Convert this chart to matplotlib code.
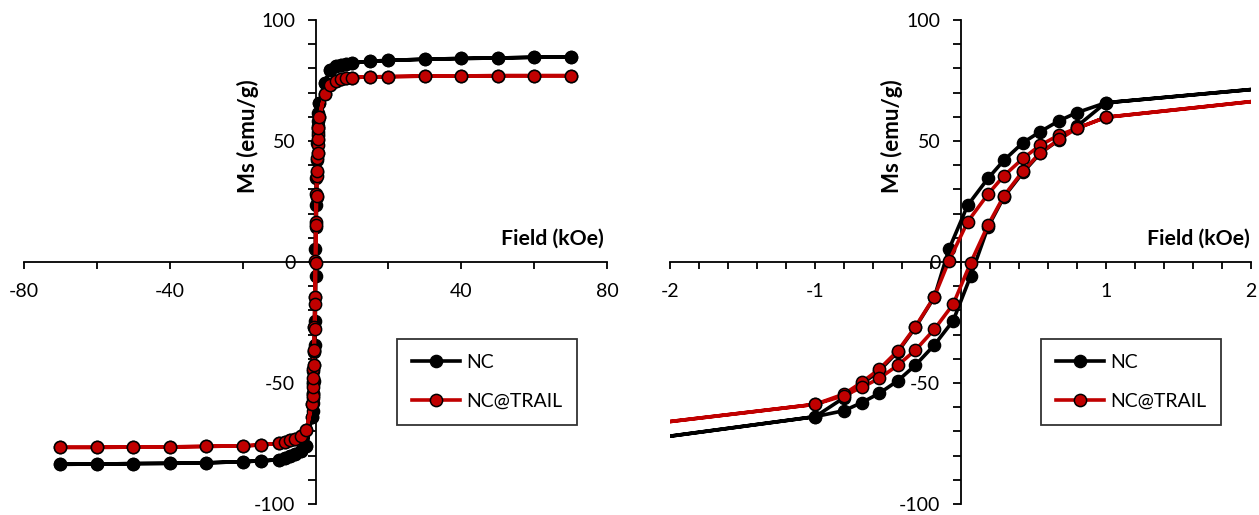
import numpy as np
import matplotlib
matplotlib.use("Agg")
import matplotlib.pyplot as plt
from matplotlib.ticker import MultipleLocator, FuncFormatter

plt.rcParams['font.family'] = ['Lato', 'DejaVu Sans']

# ---------------- data (field in kOe, Ms in emu/g) ----------------
field_down = [70, 60, 50, 40, 30, 20, 15, 10, 8.5, 7, 5.5, 4, 2.5,
              1.0, 0.8, 0.68, 0.55, 0.43, 0.30, 0.19, 0.05, -0.08, -0.18,
              -0.31, -0.43, -0.56, -0.68, -0.8, -1.0,
              -2.5, -4, -5.5, -7, -8.5, -10, -15, -20, -30, -40, -50, -60, -70]
nc_down = [84.7, 84.6, 84.3, 84.1, 83.8, 83.3, 83.0, 82.2, 81.9, 81.5, 80.8, 79.2, 74.0,
           65.8, 61.7, 58.4, 53.9, 49.3, 42.1, 34.6, 23.5, 5.2, -14.5,
           -27.0, -37.0, -45.0, -50.5, -56.0, -63.9,
           -76.0, -78.3, -79.5, -80.3, -81.0, -81.7, -82.2, -82.5, -83.0, -83.2, -83.3, -83.5, -83.6]
trail_down = [77.0, 77.0, 77.0, 76.9, 76.8, 76.6, 76.5, 76.2, 76.0, 75.7, 74.8, 73.0, 69.5,
              59.8, 55.2, 52.5, 48.3, 42.8, 35.7, 28.1, 16.7, 0.4, -14.3,
              -26.7, -36.6, -44.3, -49.7, -54.5, -58.8,
              -69.5, -72.0, -73.1, -73.7, -74.3, -74.9, -75.6, -76.0, -76.2, -76.4, -76.5, -76.6, -76.6]

field_up = [-70, -60, -50, -40, -30, -20, -15, -10, -8.5, -7, -5.5, -4, -2.5,
            -1.0, -0.8, -0.68, -0.56, -0.43, -0.31, -0.18, -0.05, 0.07, 0.19,
            0.30, 0.43, 0.55, 0.68, 0.8, 1.0,
            2.5, 4, 5.5, 7, 8.5, 10, 15, 20, 30, 40, 50, 60, 70]
nc_up = [-83.6, -83.5, -83.3, -83.2, -83.0, -82.5, -82.2, -81.7, -81.0, -80.3, -79.5, -78.3, -76.0,
         -63.9, -61.4, -58.1, -54.3, -49.0, -42.6, -34.3, -24.2, -5.8, 14.5,
         27.0, 37.0, 45.0, 50.5, 56.0, 65.8,
         74.0, 79.2, 80.8, 81.5, 81.9, 82.2, 83.0, 83.3, 83.8, 84.1, 84.3, 84.6, 84.7]
trail_up = [-76.6, -76.6, -76.5, -76.4, -76.2, -76.0, -75.6, -74.9, -74.3, -73.7, -73.1, -72.0, -69.5,
            -58.8, -55.2, -51.8, -48.1, -42.6, -36.4, -27.8, -17.4, -0.3, 15.3,
            27.4, 37.6, 45.2, 50.7, 55.2, 59.8,
            69.5, 73.0, 74.8, 75.7, 76.0, 76.2, 76.5, 76.6, 76.8, 76.9, 77.0, 77.0, 77.0]

series_names = ["NC", "NC@TRAIL"]
x_label = "Field (kOe)"
y_label = "Ms (emu/g)"

field = np.array(field_down + field_up)
nc = np.array(nc_down + nc_up)
trail = np.array(trail_down + trail_up)

RED = '#C00000'

fig = plt.figure(figsize=(12.59, 5.15), dpi=100)
axL = fig.add_axes([24/1259, 1-504/515, 583/1259, 484/515])
axR = fig.add_axes([670/1259, 1-504/515, 581/1259, 484/515])

def style(ax, xlim, xminor, xlabel_every, ylab_x, leg_anchor, xlab_right):
    ax.plot(field, nc, '-o', color='black', lw=2.6, ms=8.8, mfc='black', mec='black',
            mew=1.0, label=series_names[0], zorder=3)
    ax.plot(field, trail, '-o', color=RED, lw=2.6, ms=8.8, mfc=RED, mec='black',
            mew=1.1, label=series_names[1], zorder=4)
    ax.set_xlim(*xlim)
    ax.set_ylim(-100, 100)
    for s in ['top', 'right']:
        ax.spines[s].set_visible(False)
    ax.spines['left'].set_position(('data', 0))
    ax.spines['bottom'].set_position(('data', 0))
    for s in ['left', 'bottom']:
        ax.spines[s].set_linewidth(1.3)
        ax.spines[s].set_zorder(2)
    ax.xaxis.set_major_locator(MultipleLocator(xminor))
    ax.yaxis.set_major_locator(MultipleLocator(10))

    def xfmt(v, pos):
        if abs(v) < 1e-9:
            return ''
        r = v / xlabel_every
        if abs(r - round(r)) < 1e-6:
            return f"{int(round(v))}"
        return ''

    def yfmt(v, pos):
        if abs(v / 50 - round(v / 50)) < 1e-6:
            return f"{int(round(v))}"
        return ''
    ax.xaxis.set_major_formatter(FuncFormatter(xfmt))
    ax.yaxis.set_major_formatter(FuncFormatter(yfmt))
    ax.tick_params(axis='x', direction='out', length=5, width=1.3, pad=10, labelsize=14)
    ax.tick_params(axis='y', direction='out', length=5.5, width=1.3, pad=9, labelsize=14)
    ax.patch.set_alpha(0)
    ax.text(ylab_x, 52, y_label, rotation=90, ha='center', va='center',
            fontsize=16, fontweight='bold')
    ax.text(xlab_right, 5.5, x_label, ha='right', va='bottom', fontsize=15.3,
            fontweight='bold')
    leg = ax.legend(loc='upper left', bbox_to_anchor=leg_anchor,
                    bbox_transform=fig.transFigure, fontsize=14, frameon=True,
                    fancybox=False, edgecolor='black', handlelength=2.5,
                    handletextpad=0.3, labelspacing=1.15, borderpad=0.75,
                    borderaxespad=0)
    leg.get_frame().set_linewidth(1.3)

style(axL, (-80, 80), 20, 40, -18.5, (397/1259, 1-339/515), 79)
style(axR, (-2, 2), 0.2, 1, -0.475, (1041/1259, 1-339/515), 1.99)

fig.savefig("out.png", dpi=100)
